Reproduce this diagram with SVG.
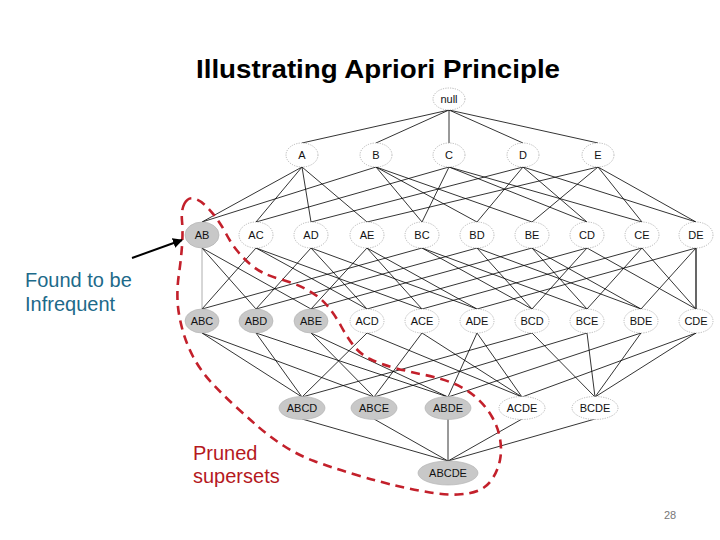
<svg xmlns="http://www.w3.org/2000/svg" width="720" height="540" viewBox="0 0 720 540">
<style>
.e{stroke:#000;stroke-width:0.8;fill:none}
.n{fill:#fff;stroke:#999;stroke-width:0.7;stroke-dasharray:1.2 1.2}
.g{fill:#c8c8c8;stroke:#b4b4b4;stroke-width:0.7}
.t{font-family:"Liberation Sans",Arial,sans-serif;font-size:11px;fill:#111;text-anchor:middle}
.lbl{font-family:"Liberation Sans",Arial,sans-serif;font-size:20px}
</style>
<defs>
<marker id="ah" viewBox="0 0 10 10" refX="9" refY="5" markerWidth="5" markerHeight="5" orient="auto" markerUnits="strokeWidth">
<path d="M0,0 L10,5 L0,10 z" fill="#000"/>
</marker>
</defs>
<rect width="720" height="540" fill="#fff"/>
<text x="196" y="78" font-family="Liberation Sans,Arial,sans-serif" font-weight="bold" font-size="26" textLength="364" lengthAdjust="spacingAndGlyphs" fill="#000">Illustrating Apriori Principle</text>
<g id="connectors">
<g class="e">
<line x1="449" y1="110" x2="302" y2="143"/>
<line x1="449" y1="110" x2="376" y2="143"/>
<line x1="449" y1="110" x2="449" y2="143"/>
<line x1="449" y1="110" x2="523" y2="143"/>
<line x1="449" y1="110" x2="598" y2="143"/>
<line x1="302" y1="167" x2="202" y2="222"/>
<line x1="302" y1="167" x2="256" y2="222"/>
<line x1="302" y1="167" x2="311" y2="222"/>
<line x1="302" y1="167" x2="367" y2="222"/>
<line x1="376" y1="167" x2="202" y2="222"/>
<line x1="376" y1="167" x2="422" y2="222"/>
<line x1="376" y1="167" x2="477" y2="222"/>
<line x1="376" y1="167" x2="532" y2="222"/>
<line x1="449" y1="167" x2="256" y2="222"/>
<line x1="449" y1="167" x2="422" y2="222"/>
<line x1="449" y1="167" x2="587" y2="222"/>
<line x1="449" y1="167" x2="642" y2="222"/>
<line x1="523" y1="167" x2="311" y2="222"/>
<line x1="523" y1="167" x2="477" y2="222"/>
<line x1="523" y1="167" x2="587" y2="222"/>
<line x1="523" y1="167" x2="696" y2="222"/>
<line x1="598" y1="167" x2="367" y2="222"/>
<line x1="598" y1="167" x2="532" y2="222"/>
<line x1="598" y1="167" x2="642" y2="222"/>
<line x1="598" y1="167" x2="696" y2="222"/>
<line x1="202" y1="248" x2="202" y2="309" stroke="#999"/>
<line x1="256" y1="248" x2="202" y2="309"/>
<line x1="422" y1="248" x2="202" y2="309"/>
<line x1="202" y1="248" x2="256" y2="309"/>
<line x1="311" y1="248" x2="256" y2="309"/>
<line x1="477" y1="248" x2="256" y2="309"/>
<line x1="202" y1="248" x2="311" y2="309"/>
<line x1="367" y1="248" x2="311" y2="309"/>
<line x1="532" y1="248" x2="311" y2="309"/>
<line x1="256" y1="248" x2="367" y2="309"/>
<line x1="311" y1="248" x2="367" y2="309"/>
<line x1="587" y1="248" x2="367" y2="309"/>
<line x1="256" y1="248" x2="422" y2="309"/>
<line x1="367" y1="248" x2="422" y2="309"/>
<line x1="642" y1="248" x2="422" y2="309"/>
<line x1="311" y1="248" x2="477" y2="309"/>
<line x1="367" y1="248" x2="477" y2="309"/>
<line x1="696" y1="248" x2="477" y2="309"/>
<line x1="422" y1="248" x2="532" y2="309"/>
<line x1="477" y1="248" x2="532" y2="309"/>
<line x1="587" y1="248" x2="532" y2="309"/>
<line x1="422" y1="248" x2="587" y2="309"/>
<line x1="532" y1="248" x2="587" y2="309"/>
<line x1="642" y1="248" x2="587" y2="309"/>
<line x1="477" y1="248" x2="641" y2="309"/>
<line x1="532" y1="248" x2="641" y2="309"/>
<line x1="696" y1="248" x2="641" y2="309"/>
<line x1="587" y1="248" x2="696" y2="309"/>
<line x1="642" y1="248" x2="696" y2="309"/>
<line x1="696" y1="248" x2="696" y2="309" stroke-width="1.2"/>
<line x1="202" y1="333" x2="302" y2="397"/>
<line x1="256" y1="333" x2="302" y2="397"/>
<line x1="367" y1="333" x2="302" y2="397"/>
<line x1="532" y1="333" x2="302" y2="397"/>
<line x1="202" y1="333" x2="374" y2="397"/>
<line x1="311" y1="333" x2="374" y2="397"/>
<line x1="422" y1="333" x2="374" y2="397"/>
<line x1="587" y1="333" x2="374" y2="397"/>
<line x1="256" y1="333" x2="448" y2="397"/>
<line x1="311" y1="333" x2="448" y2="397"/>
<line x1="477" y1="333" x2="448" y2="397"/>
<line x1="641" y1="333" x2="448" y2="397"/>
<line x1="367" y1="333" x2="522" y2="397"/>
<line x1="422" y1="333" x2="522" y2="397"/>
<line x1="477" y1="333" x2="522" y2="397"/>
<line x1="696" y1="333" x2="522" y2="397"/>
<line x1="532" y1="333" x2="595" y2="397"/>
<line x1="587" y1="333" x2="595" y2="397"/>
<line x1="641" y1="333" x2="595" y2="397"/>
<line x1="696" y1="333" x2="595" y2="397"/>
<line x1="302" y1="419" x2="448" y2="461"/>
<line x1="374" y1="419" x2="448" y2="461"/>
<line x1="448" y1="419" x2="448" y2="461"/>
<line x1="522" y1="419" x2="448" y2="461"/>
<line x1="595" y1="419" x2="448" y2="461"/>
</g>
</g>
<g id="nodes">
<g id="node-null"><ellipse class="n" cx="449" cy="99" rx="16" ry="11"/><text class="t" x="449" y="103" font-size="10">null</text></g>
<g id="node-A"><ellipse class="n" cx="302" cy="155" rx="16" ry="12"/><text class="t" x="302" y="159">A</text></g>
<g id="node-B"><ellipse class="n" cx="376" cy="155" rx="16" ry="12"/><text class="t" x="376" y="159">B</text></g>
<g id="node-C"><ellipse class="n" cx="449" cy="155" rx="16" ry="12"/><text class="t" x="449" y="159">C</text></g>
<g id="node-D"><ellipse class="n" cx="523" cy="155" rx="16" ry="12"/><text class="t" x="523" y="159">D</text></g>
<g id="node-E"><ellipse class="n" cx="598" cy="155" rx="16" ry="12"/><text class="t" x="598" y="159">E</text></g>
<g id="node-AB"><ellipse class="g" cx="202" cy="235" rx="17" ry="13"/><text class="t" x="202" y="239">AB</text></g>
<g id="node-AC"><ellipse class="n" cx="256" cy="235" rx="17" ry="13"/><text class="t" x="256" y="239">AC</text></g>
<g id="node-AD"><ellipse class="n" cx="311" cy="235" rx="17" ry="13"/><text class="t" x="311" y="239">AD</text></g>
<g id="node-AE"><ellipse class="n" cx="367" cy="235" rx="17" ry="13"/><text class="t" x="367" y="239">AE</text></g>
<g id="node-BC"><ellipse class="n" cx="422" cy="235" rx="17" ry="13"/><text class="t" x="422" y="239">BC</text></g>
<g id="node-BD"><ellipse class="n" cx="477" cy="235" rx="17" ry="13"/><text class="t" x="477" y="239">BD</text></g>
<g id="node-BE"><ellipse class="n" cx="532" cy="235" rx="17" ry="13"/><text class="t" x="532" y="239">BE</text></g>
<g id="node-CD"><ellipse class="n" cx="587" cy="235" rx="17" ry="13"/><text class="t" x="587" y="239">CD</text></g>
<g id="node-CE"><ellipse class="n" cx="642" cy="235" rx="17" ry="13"/><text class="t" x="642" y="239">CE</text></g>
<g id="node-DE"><ellipse class="n" cx="696" cy="235" rx="17" ry="13"/><text class="t" x="696" y="239">DE</text></g>
<g id="node-ABC"><ellipse class="g" cx="202" cy="321" rx="17" ry="12"/><text class="t" x="202" y="325">ABC</text></g>
<g id="node-ABD"><ellipse class="g" cx="256" cy="321" rx="17" ry="12"/><text class="t" x="256" y="325">ABD</text></g>
<g id="node-ABE"><ellipse class="g" cx="311" cy="321" rx="17" ry="12"/><text class="t" x="311" y="325">ABE</text></g>
<g id="node-ACD"><ellipse class="n" cx="367" cy="321" rx="17" ry="12"/><text class="t" x="367" y="325">ACD</text></g>
<g id="node-ACE"><ellipse class="n" cx="422" cy="321" rx="17" ry="12"/><text class="t" x="422" y="325">ACE</text></g>
<g id="node-ADE"><ellipse class="n" cx="477" cy="321" rx="17" ry="12"/><text class="t" x="477" y="325">ADE</text></g>
<g id="node-BCD"><ellipse class="n" cx="532" cy="321" rx="17" ry="12"/><text class="t" x="532" y="325">BCD</text></g>
<g id="node-BCE"><ellipse class="n" cx="587" cy="321" rx="17" ry="12"/><text class="t" x="587" y="325">BCE</text></g>
<g id="node-BDE"><ellipse class="n" cx="641" cy="321" rx="17" ry="12"/><text class="t" x="641" y="325">BDE</text></g>
<g id="node-CDE"><ellipse class="n" cx="696" cy="321" rx="17" ry="12"/><text class="t" x="696" y="325">CDE</text></g>
<g id="node-ABCD"><ellipse class="g" cx="302" cy="408" rx="23" ry="11.5"/><text class="t" x="302" y="412">ABCD</text></g>
<g id="node-ABCE"><ellipse class="g" cx="374" cy="408" rx="23" ry="11.5"/><text class="t" x="374" y="412">ABCE</text></g>
<g id="node-ABDE"><ellipse class="g" cx="448" cy="408" rx="23" ry="11.5"/><text class="t" x="448" y="412">ABDE</text></g>
<g id="node-ACDE"><ellipse class="n" cx="522" cy="408" rx="23" ry="11.5"/><text class="t" x="522" y="412">ACDE</text></g>
<g id="node-BCDE"><ellipse class="n" cx="595" cy="408" rx="23" ry="11.5"/><text class="t" x="595" y="412">BCDE</text></g>
<g id="node-ABCDE"><ellipse class="g" cx="448" cy="473" rx="30" ry="12"/><text class="t" x="448" y="477">ABCDE</text></g>
</g>
<path id="pruned-boundary" d="M184.5,203.5 Q188,197 194,198.5 Q200,200 206,206 Q212,212 217,219 Q222,226 226.5,234.5 Q231,243 237,250.5 Q243,258 250,264 Q257,270 264.5,273.5 Q272,277 284.5,280.5 Q297,284 308.5,290.5 Q320,297 327.5,306 Q335,315 341,326 Q347,337 353.5,345.5 Q360,354 370,359 Q380,364 395,368 Q410,372 425,375 Q440,378 452.5,383 Q465,388 475,396.5 Q485,405 491.5,416 Q498,427 500,438.5 Q502,450 500,460 Q498,470 492.5,478.5 Q487,487 478.5,490.5 Q470,494 457.5,494.5 Q445,495 430,492.5 Q415,490 397.5,486 Q380,482 355,474.5 Q330,467 314,461 Q298,455 284,446 Q270,437 258.5,427 Q247,417 234.5,405.5 Q222,394 211,382 Q200,370 193,356.5 Q186,343 182,328 Q178,313 177.5,300 Q177,287 179,273.5 Q181,260 182,246 Q183,232 182,221 Q181,210 184.5,203.5 Z" fill="none" stroke="#C3202B" stroke-width="2.6" stroke-dasharray="9 6"/>
<g id="note-infrequent">
<line x1="132" y1="258" x2="182" y2="240" stroke="#000" stroke-width="2" marker-end="url(#ah)"/>
<text class="lbl" x="25" y="287" fill="#1D6A8A">Found to be</text>
<text class="lbl" x="25" y="311" fill="#1D6A8A">Infrequent</text>
</g>
<g id="note-pruned">
<text class="lbl" x="193" y="460" fill="#B5191E">Pruned</text>
<text class="lbl" x="193" y="483" fill="#B5191E">supersets</text>
</g>
<text x="670" y="519" font-family="Liberation Sans,Arial,sans-serif" font-size="11" fill="#777" text-anchor="middle">28</text>
</svg>
